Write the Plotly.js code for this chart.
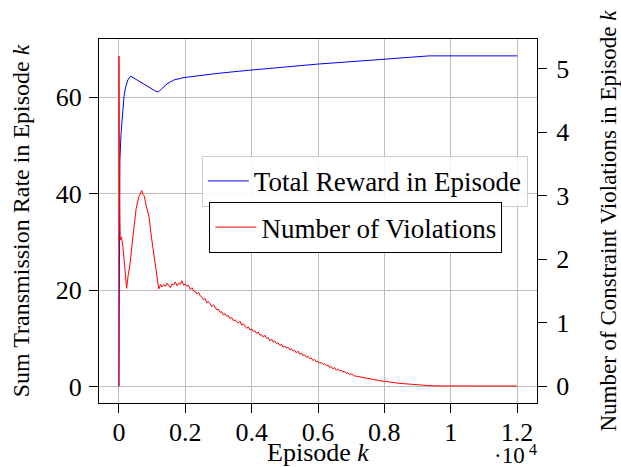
<!DOCTYPE html>
<html><head><meta charset="utf-8">
<script src="https://cdn.plot.ly/plotly-3.0.1.min.js"></script>
<style>html,body{margin:0;padding:0;background:#fff}#c{width:621px;height:467px}</style>
</head><body><div id="c"></div>
<script>
// Episode axis tick labels (x 10^4)
const xTickVals = [0, 2000, 4000, 6000, 8000, 10000, 12000];
const xTickText = ['0', '0.2', '0.4', '0.6', '0.8', '1', '1.2'];
const rewardTicks = [0, 20, 40, 60];
const violTicks = [0, 1, 2, 3, 4, 5];

// Total reward (sum transmission rate) per episode
const rewardEp = [0, 30, 60, 100, 150, 201, 270, 353, 450, 600, 800, 1000, 1100, 1186, 1300, 1450, 1660, 1800, 1961, 2200, 2400, 2600, 2900, 3168, 3400, 3600, 3900, 4200, 4500, 4828, 5100, 5400, 5700, 6005, 6400, 6800, 7100, 7400, 7700, 8017, 8400, 8700, 9000, 9354, 10008, 12000];
const reward   = [0, 46.9, 52.0, 56.6, 60.0, 62.1, 63.6, 64.4, 64.0, 63.3, 62.6, 61.8, 61.3, 61.1, 61.8, 62.8, 63.6, 63.9, 64.1, 64.3, 64.5, 64.6, 64.9, 65.1, 65.2, 65.4, 65.6, 65.8, 65.9, 66.2, 66.3, 66.6, 66.7, 66.9, 67.1, 67.3, 67.4, 67.6, 67.7, 67.9, 68.1, 68.3, 68.45, 68.6, 68.6, 68.6];

// Number of constraint violations per episode
const violEp = [0, 1, 20, 40, 80, 120, 180, 232, 280, 330, 400, 453, 520, 604, 660, 690, 720, 760, 820, 905, 980, 1056, 1110, 1157, 1200, 1257,
  1300, 1350, 1400, 1450, 1500, 1550, 1600, 1650, 1700, 1750, 1800, 1850, 1900, 1950, 2000, 2050, 2100, 2150, 2200, 2250,
  2300, 2350, 2400, 2450, 2500, 2550, 2600, 2650, 2700, 2750, 2800, 2850, 2900, 2950, 3000, 3050, 3100, 3150, 3200, 3250,
  3300, 3350, 3400, 3450, 3500, 3550, 3600, 3650, 3700, 3750, 3800, 3850, 3900, 3950, 4000, 4050, 4100, 4150, 4200, 4250,
  4300, 4350, 4400, 4450, 4500, 4550, 4600, 4650, 4700, 4750, 4800, 4850, 4900, 4950, 5000, 5050, 5100, 5150, 5200, 5250,
  5300, 5350, 5400, 5450, 5500, 5550, 5600, 5650, 5700, 5750, 5800, 5850, 5900, 5950, 6000, 6050, 6100, 6150, 6200, 6250,
  6300, 6350, 6400, 6450, 6500, 6550, 6600, 6650, 6700, 6750, 6800, 6850, 6900, 6950, 7000, 7100, 7200, 7300, 7400, 7500,
  7600, 7700, 7800, 7900, 8000, 8100, 8200, 8300, 8400, 8500, 8600, 8700, 8800, 8900, 9000, 9200, 9400, 9700, 10000, 12000];
const violations = [0, 5.2, 2.9, 2.3, 2.35, 2.2, 1.85, 1.54, 1.75, 1.9, 2.25, 2.51, 2.8, 2.99, 3.05, 3.08, 3.02, 3.0, 2.85, 2.67, 2.35, 2.07, 1.8, 1.62, 1.53, 1.6,
  1.56, 1.60, 1.57, 1.62, 1.58, 1.55, 1.61, 1.59, 1.64, 1.58, 1.62, 1.60, 1.66, 1.59, 1.61, 1.57, 1.59, 1.52, 1.55, 1.50,
  1.49, 1.45, 1.48, 1.42, 1.40, 1.36, 1.38, 1.31, 1.33, 1.28, 1.25, 1.28, 1.23, 1.20, 1.21, 1.16, 1.17, 1.12, 1.14, 1.10,
  1.11, 1.06, 1.08, 1.03, 1.04, 1.01, 0.99, 1.02, 0.96, 0.98, 0.94, 0.91, 0.93, 0.88, 0.90, 0.86, 0.87, 0.83, 0.85, 0.80,
  0.81, 0.77, 0.80, 0.75, 0.76, 0.71, 0.74, 0.69, 0.71, 0.67, 0.68, 0.64, 0.66, 0.61, 0.63, 0.60, 0.61, 0.57, 0.59, 0.55,
  0.56, 0.52, 0.55, 0.50, 0.52, 0.48, 0.49, 0.45, 0.47, 0.43, 0.44, 0.40, 0.42, 0.38, 0.39, 0.36, 0.37, 0.34, 0.35, 0.32,
  0.33, 0.29, 0.31, 0.27, 0.29, 0.25, 0.27, 0.24, 0.25, 0.22, 0.23, 0.20, 0.21, 0.18, 0.19, 0.16, 0.15, 0.14, 0.12, 0.115,
  0.10, 0.095, 0.085, 0.08, 0.075, 0.065, 0.06, 0.05, 0.045, 0.04, 0.035, 0.03, 0.028, 0.02, 0.015, 0.008, 0.004, 0.001, 0, 0];

const serif = 'Liberation Serif';

const traces = [
  {x: rewardEp, y: reward, type: 'scatter', mode: 'lines', name: 'Total Reward in Episode',
   line: {color: '#0000ff', width: 1}, yaxis: 'y', legend: 'legend', showlegend: true},
  {x: violEp, y: violations, type: 'scatter', mode: 'lines', name: 'Number of Violations',
   line: {color: '#ff0000', width: 1}, yaxis: 'y2', legend: 'legend2', showlegend: true}
];

const layout = {
  width: 621, height: 467,
  showlegend: true,
  margin: {l: 99, r: 84, t: 39, b: 64},
  paper_bgcolor: '#fff', plot_bgcolor: '#fff',
  font: {family: serif, size: 26, color: '#000'},
  xaxis: {range: [-600, 12600], tickvals: xTickVals, ticktext: xTickText,
    tickfont: {family: serif, size: 26, color: '#000'},
    showgrid: true, gridcolor: '#bdbdbd', gridwidth: 1, zeroline: false,
    showline: true, linecolor: '#000', linewidth: 1, mirror: true,
    ticks: 'outside', ticklen: 9, tickcolor: '#000', ticklabelstandoff: -3,
    title: {text: 'Episode <i>k</i>', font: {size: 26, family: serif, color: '#000'}, standoff: 6}},
  yaxis: {range: [-3.43, 72.1], tickvals: rewardTicks,
    tickfont: {family: serif, size: 26, color: '#000'},
    showgrid: true, gridcolor: '#bdbdbd', gridwidth: 1, zeroline: false,
    showline: true, linecolor: '#000', linewidth: 1,
    ticks: 'outside', ticklen: 9, tickcolor: '#000', ticklabelstandoff: 2,
    title: {text: 'Sum Transmission Rate in Episode <i>k</i>', font: {size: 24, family: serif, color: '#000'}, standoff: 19}},
  yaxis2: {range: [-0.268, 5.47], tickvals: violTicks, overlaying: 'y', side: 'right',
    tickfont: {family: serif, size: 26, color: '#000'},
    showgrid: false, zeroline: false,
    showline: true, linecolor: '#000', linewidth: 1,
    ticks: 'outside', ticklen: 9, tickcolor: '#000', ticklabelstandoff: 4,
    title: {text: 'Number of Constraint Violations in Episode <i>k</i>', font: {size: 23, family: serif, color: '#000'}, standoff: 38}},
  legend: {x: 0.979, y: 0.679, xanchor: 'right', yanchor: 'top', itemwidth: 41,
    bgcolor: 'rgba(255,255,255,0.85)', bordercolor: '#cccccc', borderwidth: 1,
    font: {size: 27, family: serif, color: '#000'}},
  legend2: {x: 0.921, y: 0.552, xanchor: 'right', yanchor: 'top', itemwidth: 41,
    bgcolor: '#ffffff', bordercolor: '#000000', borderwidth: 1,
    font: {size: 27, family: serif, color: '#000'}},
  annotations: [
    {xref: 'paper', yref: 'paper', x: 0.977, y: -0.144, xanchor: 'right', yanchor: 'middle',
     text: '·10', showarrow: false, font: {size: 23, family: serif, color: '#000'}},
    {xref: 'paper', yref: 'paper', x: 0.977, y: -0.128, xanchor: 'left', yanchor: 'middle',
     text: '4', showarrow: false, font: {size: 16, family: serif, color: '#000'}},
    {xref: 'paper', yref: 'paper', x: 1, y: 1, text: ' ', showarrow: true,
     ax: 0, ay: 12, arrowhead: 2, arrowsize: 1, arrowwidth: 1, arrowcolor: '#000', standoff: 0}
  ]
};

Plotly.newPlot('c', traces, layout, {staticPlot: true, displayModeBar: false});
</script>
</body></html>
